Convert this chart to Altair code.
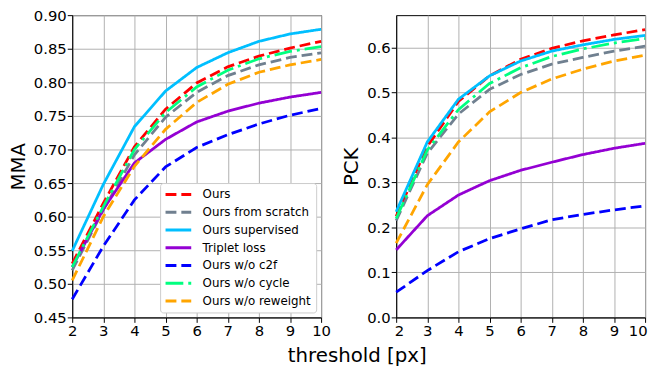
import altair as alt
import pandas as pd

thresholds = [2, 3, 4, 5, 6, 7, 8, 9, 10]
series = ["Ours", "Ours from scratch", "Ours supervised", "Triplet loss",
          "Ours w/o c2f", "Ours w/o cycle", "Ours w/o reweight"]
colors = ["#ff0000", "#708090", "#00bfff", "#9400d3", "#0000ff", "#00ff7f", "#ffa500"]
dashes = [[11, 5], [11, 5], [1, 0], [1, 0], [11, 5], [18, 5, 3, 5], [11, 5]]

# MMA (left panel)
mma_ours = [0.530, 0.620, 0.704, 0.760, 0.799, 0.823, 0.839, 0.851, 0.861]
mma_scratch = [0.520, 0.610, 0.692, 0.748, 0.785, 0.810, 0.826, 0.837, 0.844]
mma_supervised = [0.549, 0.648, 0.734, 0.787, 0.822, 0.844, 0.861, 0.872, 0.879]
mma_triplet = [0.525, 0.611, 0.680, 0.715, 0.741, 0.757, 0.769, 0.778, 0.785]
mma_c2f = [0.477, 0.556, 0.625, 0.674, 0.703, 0.722, 0.738, 0.751, 0.761]
mma_cycle = [0.525, 0.615, 0.700, 0.755, 0.793, 0.818, 0.835, 0.846, 0.853]
mma_reweight = [0.505, 0.600, 0.675, 0.730, 0.770, 0.797, 0.815, 0.826, 0.834]

# PCK (right panel)
pck_ours = [0.225, 0.380, 0.480, 0.537, 0.574, 0.598, 0.615, 0.628, 0.640]
pck_scratch = [0.215, 0.365, 0.452, 0.507, 0.540, 0.563, 0.578, 0.592, 0.603]
pck_supervised = [0.235, 0.390, 0.485, 0.537, 0.570, 0.592, 0.606, 0.618, 0.627]
pck_triplet = [0.150, 0.226, 0.272, 0.304, 0.327, 0.345, 0.362, 0.376, 0.387]
pck_c2f = [0.056, 0.104, 0.146, 0.175, 0.197, 0.217, 0.229, 0.239, 0.248]
pck_cycle = [0.220, 0.372, 0.462, 0.520, 0.555, 0.580, 0.597, 0.610, 0.620]
pck_reweight = [0.165, 0.295, 0.390, 0.457, 0.500, 0.530, 0.552, 0.570, 0.583]

mma_ticks = [0.45, 0.50, 0.55, 0.60, 0.65, 0.70, 0.75, 0.80, 0.85, 0.90]
pck_ticks = [0.0, 0.1, 0.2, 0.3, 0.4, 0.5, 0.6]

mma_all = [mma_ours, mma_scratch, mma_supervised, mma_triplet, mma_c2f, mma_cycle, mma_reweight]
pck_all = [pck_ours, pck_scratch, pck_supervised, pck_triplet, pck_c2f, pck_cycle, pck_reweight]


def frame(all_vals):
    rows = []
    for i, (name, vals) in enumerate(zip(series, all_vals)):
        for t, v in zip(thresholds, vals):
            rows.append({"threshold": t, "value": v, "method": name, "order": i})
    return pd.DataFrame(rows)


df_mma = frame(mma_all)
df_pck = frame(pck_all)

FONT = "DejaVu Sans"

legend = alt.Legend(
    title=None,
    orient="bottom-right",
    offset=5,
    symbolType="M-2.6,0H2.6",
    symbolSize=100,
    symbolStrokeWidth=3,
    symbolOffset=7,
    labelOffset=18,
    labelFont=FONT,
    labelFontSize=12,
    labelColor="black",
    labelLimit=0,
    padding=5,
    rowPadding=5,
    strokeColor="#cccccc",
    fillColor="white",
    cornerRadius=3,
)


def panel(df, domain, ticks, fmt, title, show_legend, flush):
    leg = legend if show_legend else None
    if flush:
        x_axis = alt.Axis(values=thresholds, format="d", title=None, labelFlush=True, labelFlushOffset=2)
    else:
        x_axis = alt.Axis(values=thresholds, format="d", title=None, labelFlush=False)
    return (
        alt.Chart(df)
        .mark_line(strokeWidth=2.8, strokeCap="butt")
        .encode(
            x=alt.X("threshold:Q", scale=alt.Scale(domain=[2, 10], nice=False, zero=False), axis=x_axis),
            y=alt.Y(
                "value:Q",
                scale=alt.Scale(domain=domain, nice=False, zero=False),
                axis=alt.Axis(values=ticks, format=fmt, title=title, titlePadding=5),
            ),
            color=alt.Color("method:N", scale=alt.Scale(domain=series, range=colors), legend=leg, title=None),
            strokeDash=alt.StrokeDash("method:N", scale=alt.Scale(domain=series, range=dashes), legend=leg, title=None),
            order=alt.Order("order:Q"),
        )
        .properties(width=252, height=306)
    )


left = panel(df_mma, [0.45, 0.90], mma_ticks, ".2f", "MMA", True, False)
right = panel(df_pck, [0.0, 0.672], pck_ticks, ".1f", "PCK", False, True)

chart = (
    alt.hconcat(left, right, spacing=9)
    .resolve_scale(y="independent", color="independent", strokeDash="independent")
    .resolve_legend(color="independent", strokeDash="independent")
    .properties(
        title=alt.TitleParams(
            "threshold [px]", orient="bottom", anchor="middle", fontSize=20,
            font=FONT, fontWeight="normal", color="black", offset=8, dx=28,
        ),
        padding={"left": 0, "top": -3, "right": 0, "bottom": 0},
    )
    .configure_view(stroke="black", strokeWidth=1)
    .configure_axis(
        domainColor="black", domainWidth=1, tickColor="black", tickSize=5, tickWidth=1,
        gridColor="#b0b0b0", gridWidth=1, grid=True,
        labelFont=FONT, labelFontSize=15, labelColor="black", labelPadding=1,
        titleFont=FONT, titleFontSize=20, titleFontWeight="normal", titleColor="black",
    )
)

chart.save("out.html", embed_options={"renderer": "svg", "actions": False})
